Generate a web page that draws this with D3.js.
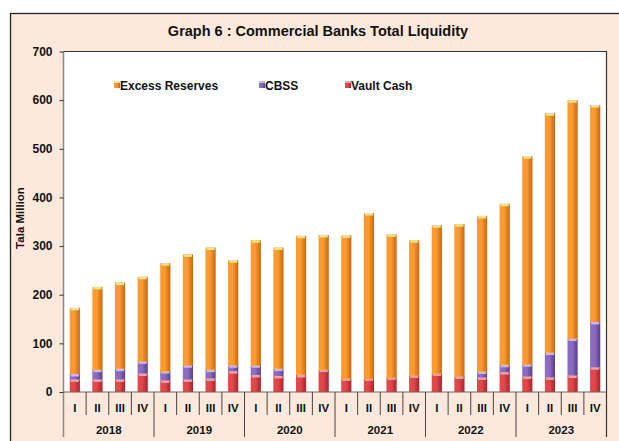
<!DOCTYPE html>
<html>
<head>
<meta charset="utf-8">
<script src="https://cdn.jsdelivr.net/npm/d3@7"></script>
<style>
  body { margin: 0; background: #fff; }
  svg text { font-family: "Liberation Sans", Arial, sans-serif; font-weight: bold; fill: #111; }
</style>
</head>
<body>
<div id="chart"></div>
<script>
// data (Tala million)
const years = ['2018', '2019', '2020', '2021', '2022', '2023']
const quarters = ['I', 'II', 'III', 'IV']
const totals = [173, 216, 225, 237, 265, 283, 297, 271, 312, 297, 321, 323,
	322, 368, 324, 312, 343, 345, 362, 387, 485, 573, 600, 590]
const vaultCash = [26, 26, 26, 38, 24, 26, 28, 43, 35, 33, 35, 46,
	28, 28, 30, 34, 38, 32, 30, 41, 32, 30, 34, 51]
const cbss = [11, 20, 22, 25, 19, 29, 18, 12, 20, 15, 1, 0,
	0, 0, 0, 0, 0, 0, 12, 15, 25, 51, 76, 93]
const excessReserves = totals.map((t, i) => t - vaultCash[i] - cbss[i])
const yTicks = [0, 100, 200, 300, 400, 500, 600, 700]

const W = 619, H = 441
const margin = { left: 63.5, top: 51.5, right: 606.5, bottom: 392 }

let svg = d3.select('#chart').append('svg')
	.attr('width', W)
	.attr('height', H)

// outer peach frame
svg.append('rect')
	.attr('x', 10.5).attr('y', 13.5)
	.attr('width', 640).attr('height', 460)
	.attr('fill', '#fde9db')
	.attr('stroke', '#222')
	.attr('stroke-width', 1.3)

svg.append('text')
	.attr('x', 318).attr('y', 36)
	.attr('text-anchor', 'middle')
	.style('font-size', '14.5px')
	.text('Graph 6 : Commercial Banks Total Liquidity')

let labels = []
years.forEach(y => quarters.forEach(q => labels.push(y + ' ' + q)))

let x = d3.scaleBand()
	.domain(labels)
	.range([margin.left, margin.right])
	.paddingInner(0.55)
	.paddingOuter(0.275)

let y = d3.scaleLinear()
	.domain([0, 700])
	.range([margin.bottom, margin.top])

// plot background
svg.append('rect')
	.attr('x', margin.left).attr('y', margin.top)
	.attr('width', margin.right - margin.left)
	.attr('height', margin.bottom - margin.top)
	.attr('fill', '#fff')

// gradients for the shaded bars
let defs = svg.append('defs')
const series = [
	{ key: 'vault', name: 'Vault Cash', values: vaultCash, dark: '#a8252a', mid: '#e2474a', cap: '#f7a0a0' },
	{ key: 'cbss', name: 'CBSS', values: cbss, dark: '#5a3f88', mid: '#8c6cc0', cap: '#c9b6ea' },
	{ key: 'excess', name: 'Excess Reserves', values: excessReserves, dark: '#c8680f', mid: '#fb9a30', cap: '#fde27c' }
]
series.forEach(s => {
	let g = defs.append('linearGradient').attr('id', 'g-' + s.key)
		.attr('x1', 0).attr('x2', 1).attr('y1', 0).attr('y2', 0)
	g.append('stop').attr('offset', '0%').attr('stop-color', s.mid)
	g.append('stop').attr('offset', '45%').attr('stop-color', s.mid)
	g.append('stop').attr('offset', '100%').attr('stop-color', s.dark)
})

// stack
let rows = labels.map((l, i) => ({ label: l, vault: vaultCash[i], cbss: cbss[i], excess: excessReserves[i] }))
let stacked = d3.stack().keys(['vault', 'cbss', 'excess'])(rows)

let layer = svg.selectAll('.layer')
	.data(stacked)
	.enter().append('g')
	.attr('class', 'layer')

layer.each(function (ser, si) {
	let s = series[si]
	let segs = d3.select(this).selectAll('g')
		.data(ser.filter(d => d[1] - d[0] > 0.5))
		.enter().append('g')
	segs.append('rect')
		.attr('x', d => x(d.data.label))
		.attr('y', d => y(d[1]))
		.attr('width', x.bandwidth())
		.attr('height', d => y(d[0]) - y(d[1]))
		.attr('fill', 'url(#g-' + s.key + ')')
	// light cap on top of each piece
	segs.append('rect')
		.attr('x', d => x(d.data.label) + 1)
		.attr('y', d => y(d[1]))
		.attr('width', x.bandwidth() - 2)
		.attr('height', d => Math.min(2.5, y(d[0]) - y(d[1])))
		.attr('fill', s.cap)
})

// plot border: top and right dark, left axis grey
svg.append('path')
	.attr('d', `M${margin.left},${margin.top}H${margin.right}V437`)
	.attr('fill', 'none')
	.attr('stroke', '#333')
	.attr('stroke-width', 1.2)

let yAxis = svg.append('g')
	.attr('transform', `translate(${margin.left},0)`)
	.call(d3.axisLeft(y).tickValues(yTicks).tickSize(4).tickPadding(7).tickFormat(d3.format('d')))
yAxis.select('.domain').attr('stroke', '#888').attr('stroke-width', 1.5)
	.attr('d', `M0,${margin.top}V437`)
yAxis.selectAll('.tick line').attr('stroke', '#333')
yAxis.selectAll('.tick text').style('font-size', '12px').attr('fill', '#111')

// baseline
svg.append('line')
	.attr('x1', margin.left).attr('x2', margin.right)
	.attr('y1', margin.bottom).attr('y2', margin.bottom)
	.attr('stroke', '#666').attr('stroke-width', 1.2)

// category axis: quarter separators and labels
let step = x.step()
let slotLeft = i => margin.left + i * step
labels.forEach((l, i) => {
	if (i > 0) {
		svg.append('line')
			.attr('x1', slotLeft(i)).attr('x2', slotLeft(i))
			.attr('y1', margin.bottom)
			.attr('y2', i % 4 === 0 ? 437 : 415)
			.attr('stroke', '#444')
			.attr('stroke-width', 1)
	}
	svg.append('text')
		.attr('x', x(l) + x.bandwidth() / 2)
		.attr('y', 412)
		.attr('text-anchor', 'middle')
		.style('font-size', '11.5px')
		.text(quarters[i % 4])
})
years.forEach((yr, i) => {
	svg.append('text')
		.attr('x', slotLeft(i * 4) + step * 2)
		.attr('y', 434)
		.attr('text-anchor', 'middle')
		.style('font-size', '11.5px')
		.text(yr)
})

svg.append('text')
	.attr('transform', 'translate(24,218) rotate(-90)')
	.attr('text-anchor', 'middle')
	.style('font-size', '11.5px')
	.text('Tala Million')

// legend
const legendX = [114, 259, 345]
let legendItems = [series[2], series[1], series[0]]
let lg = svg.selectAll('.legend')
	.data(legendItems)
	.enter().append('g')
	.attr('class', 'legend')
	.attr('transform', (d, i) => `translate(${legendX[i]},85)`)
lg.append('rect')
	.attr('x', 0).attr('y', -4)
	.attr('width', 6).attr('height', 7)
	.attr('fill', d => 'url(#g-' + d.key + ')')
lg.append('rect')
	.attr('x', 0).attr('y', -4)
	.attr('width', 6).attr('height', 2)
	.attr('fill', d => d.cap)
lg.append('text')
	.attr('x', 6)
	.attr('y', 4.5)
	.style('font-size', '12px')
	.text(d => d.name)
</script>
</body>
</html>
